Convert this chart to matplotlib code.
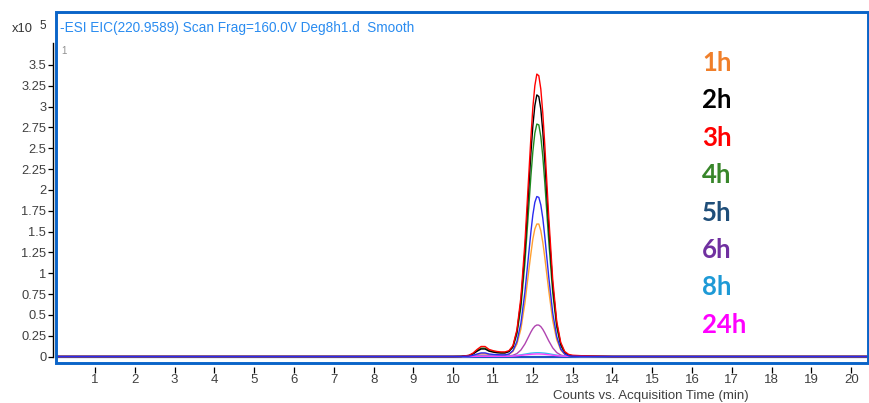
import matplotlib
matplotlib.use("Agg")
import matplotlib.pyplot as plt
from matplotlib.patches import Rectangle

# ---------------- data (counts x10^5) ----------------
time_min = [0.05, 10.0, 10.2, 10.4, 10.5, 10.6, 10.7, 10.8, 10.9, 11.0, 11.1,
            11.2, 11.3, 11.4, 11.5, 11.6, 11.7, 11.8, 11.9, 11.95, 12.0, 12.05,
            12.1, 12.15, 12.2, 12.25, 12.3, 12.4, 12.5, 12.6, 12.7, 12.8, 12.9,
            13.0, 13.2, 13.5, 14.0, 20.4]

h1 = [0, 0, 0, 0.004, 0.011, 0.023, 0.033, 0.033, 0.023, 0.02, 0.017, 0.015, 0.015,
      0.025, 0.06, 0.15, 0.33, 0.64, 1.04, 1.23, 1.41, 1.53, 1.59, 1.59, 1.51, 1.37,
      1.19, 0.79, 0.43, 0.20, 0.08, 0.025, 0.007, 0.003, 0.001, 0, 0, 0]
h2 = [0, 0, 0.001, 0.011, 0.032, 0.064, 0.09, 0.09, 0.064, 0.053, 0.045, 0.042, 0.042,
      0.06, 0.12, 0.30, 0.66, 1.26, 2.04, 2.43, 2.77, 3.01, 3.14, 3.12, 2.97, 2.70,
      2.35, 1.55, 0.85, 0.39, 0.15, 0.05, 0.015, 0.008, 0.004, 0.002, 0, 0]
h3 = [0, 0, 0.001, 0.015, 0.042, 0.085, 0.12, 0.12, 0.085, 0.07, 0.06, 0.055, 0.055,
      0.07, 0.13, 0.32, 0.71, 1.36, 2.20, 2.62, 2.99, 3.25, 3.39, 3.37, 3.21, 2.92,
      2.54, 1.67, 0.92, 0.42, 0.17, 0.06, 0.025, 0.015, 0.01, 0.005, 0, 0]
h4 = [0, 0, 0.001, 0.013, 0.035, 0.071, 0.10, 0.10, 0.071, 0.06, 0.05, 0.047, 0.047,
      0.06, 0.11, 0.27, 0.59, 1.12, 1.81, 2.16, 2.46, 2.68, 2.79, 2.78, 2.64, 2.40,
      2.09, 1.38, 0.76, 0.35, 0.13, 0.045, 0.012, 0.006, 0.003, 0.001, 0, 0]
h5 = [0, 0, 0, 0.005, 0.015, 0.03, 0.043, 0.043, 0.03, 0.025, 0.022, 0.02, 0.02,
      0.03, 0.07, 0.18, 0.40, 0.77, 1.25, 1.49, 1.70, 1.85, 1.92, 1.91, 1.82, 1.66,
      1.44, 0.95, 0.52, 0.24, 0.09, 0.03, 0.008, 0.004, 0.002, 0, 0, 0]
h6 = [0, 0, 0, 0.002, 0.005, 0.01, 0.014, 0.014, 0.01, 0.008, 0.007, 0.006, 0.006,
      0.008, 0.015, 0.035, 0.078, 0.15, 0.245, 0.293, 0.334, 0.364, 0.378, 0.377,
      0.359, 0.326, 0.283, 0.187, 0.103, 0.047, 0.018, 0.006, 0.002, 0.001, 0, 0, 0, 0]
h8 = [0, 0, 0, 0, 0.002, 0.004, 0.006, 0.006, 0.005, 0.004, 0.004, 0.004, 0.004,
      0.005, 0.008, 0.013, 0.02, 0.028, 0.036, 0.040, 0.042, 0.044, 0.045, 0.045,
      0.044, 0.042, 0.04, 0.033, 0.024, 0.016, 0.009, 0.005, 0.002, 0.001, 0, 0, 0, 0]
h24 = [0, 0, 0, 0, 0.001, 0.002, 0.003, 0.003, 0.003, 0.002, 0.002, 0.002, 0.002,
       0.003, 0.005, 0.009, 0.014, 0.019, 0.024, 0.026, 0.028, 0.029, 0.03, 0.03,
       0.029, 0.028, 0.026, 0.021, 0.015, 0.01, 0.006, 0.004, 0.003, 0.003, 0.002,
       0.001, 0, 0]

series_labels = ["1h", "2h", "3h", "4h", "5h", "6h", "8h", "24h"]
series_values = [h1, h2, h3, h4, h5, h6, h8, h24]
line_colors = ["#FFA030", "#000000", "#FF0000", "#1E8C1E", "#2A2AF0", "#B044B0",
               "#30C0F0", "#FF40FF"]
label_colors = ["#F07F2A", "#000000", "#FF0000", "#38862A", "#1F4E79", "#7030A0",
                "#1E9AD6", "#FF00FF"]

y_ticks = [0, 0.25, 0.5, 0.75, 1, 1.25, 1.5, 1.75, 2, 2.25, 2.5, 2.75, 3, 3.25, 3.5]
y_tick_labels = ["0", "0.25", "0.5", "0.75", "1", "1.25", "1.5", "1.75", "2",
                 "2.25", "2.5", "2.75", "3", "3.25", "3.5"]
x_ticks = list(range(1, 21))

header = "-ESI EIC(220.9589) Scan Frag=160.0V Deg8h1.d  Smooth"
x_label = "Counts vs. Acquisition Time (min)"

# ---------------- figure ----------------
plt.rcParams['font.family'] = ['Liberation Sans', 'DejaVu Sans']
W, H = 870, 403
fig = plt.figure(figsize=(W / 100, H / 100), dpi=100)
ax = fig.add_axes([56 / W, 40 / H, 812 / W, 351 / H])
ax.set_xlim(0.02, 20.42)
ax.set_ylim(-0.078, 4.135)

# baseline (overlapping traces at zero)
ax.axhline(0, color="#1F55C0", lw=1.6, zorder=1)
draw_order = [0, 5, 6, 7, 3, 1, 2, 4]
for i in draw_order:
    ax.plot(time_min, series_values[i], color=line_colors[i], lw=1.0, zorder=2)

# blue frame
for s in ax.spines.values():
    s.set_visible(False)
ax.add_patch(Rectangle((0, 0), 1, 1, transform=ax.transAxes, fill=False,
                       edgecolor="#0A64C8", lw=2.1, zorder=5, clip_on=False))

# y axis (black line with ticks, slightly outside frame)
ax.spines['left'].set_visible(True)
ax.spines['left'].set_color("black")
ax.spines['left'].set_linewidth(1.0)
ax.spines['left'].set_position(('outward', 2.5))
ax.spines['left'].set_bounds(0, 3.76)
ax.set_yticks(y_ticks)
ax.set_yticklabels(y_tick_labels)
ax.tick_params(axis='y', direction='out', length=3.5, width=0.9, pad=1,
               labelsize=9.3, colors="#000000", labelcolor="#404040")

# x axis ticks below frame
ax.spines['bottom'].set_position(('outward', 2.9))
ax.set_xticks(x_ticks)
ax.set_xticklabels([str(v) for v in x_ticks])
ax.tick_params(axis='x', direction='out', length=4.3, width=0.9, pad=1,
               labelsize=9.5, colors="#000000", labelcolor="#404040")

# texts
fig.text(60 / W, 1 - 28 / H, header, color="#2A8CF0", fontsize=9.8,
         ha="left", va="center")
fig.text(61 / W, 1 - 51 / H, "1", color="#909090", fontsize=7,
         ha="left", va="center")
fig.text(12 / W, 1 - 29 / H, "x10", color="#333333", fontsize=9.3,
         ha="left", va="center")
fig.text(39 / W, 1 - 26 / H, "5", color="#333333", fontsize=8.5,
         ha="left", va="center")
fig.text(651 / W, 1 - 396 / H, x_label, color="#404040", fontsize=9.5,
         ha="center", va="center")

for k, (lab, col) in enumerate(zip(series_labels, label_colors)):
    fig.text(702 / W, 1 - (63 + 37.4 * k) / H, lab, color=col, fontsize=18.5,
             fontweight="bold", family=["Lato", "DejaVu Sans"],
             ha="left", va="center")

fig.savefig("out.png", dpi=100)
